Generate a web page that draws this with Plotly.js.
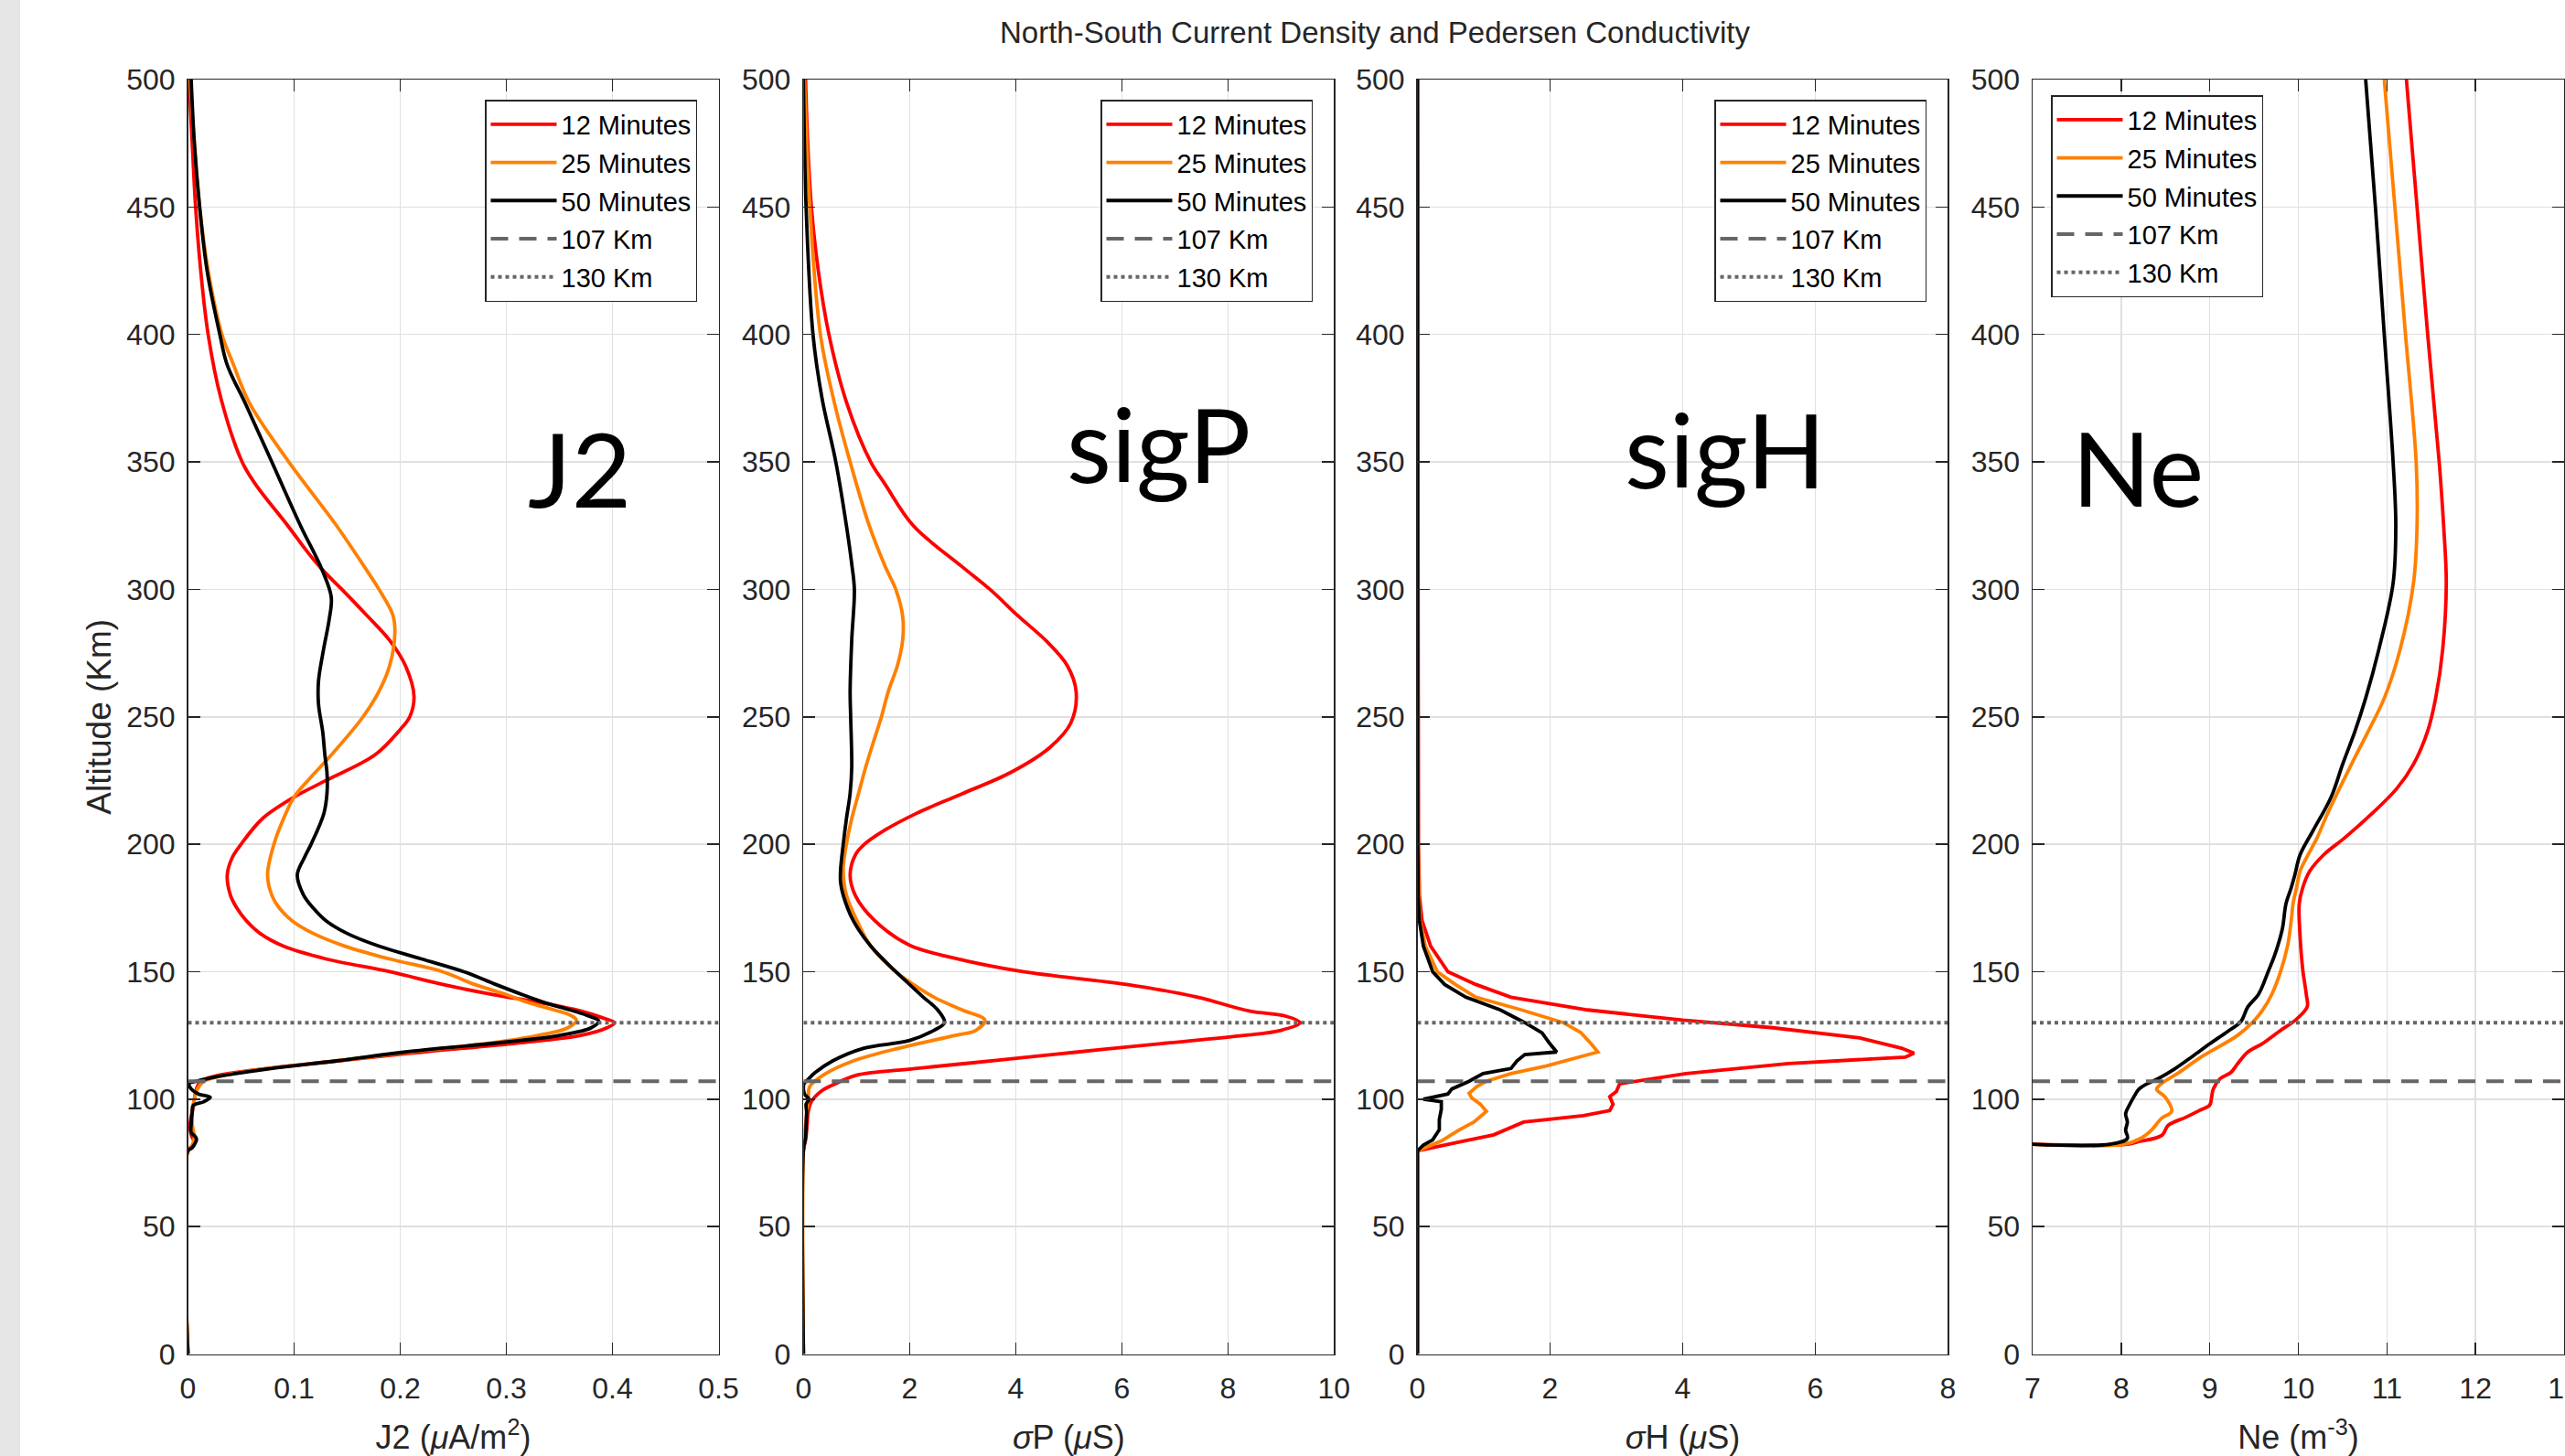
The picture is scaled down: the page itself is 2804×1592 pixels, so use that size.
<!DOCTYPE html>
<html><head><meta charset="utf-8">
<script src="https://cdn.plot.ly/plotly-3.0.1.min.js"></script>
<style>html,body{margin:0;padding:0;background:#fff;}#chart{width:2804px;height:1592px;}</style>
</head><body><div id="chart"></div>
<script>
// ---------------- DATA ----------------
const seriesNames = ['12 Minutes', '25 Minutes', '50 Minutes'];
const refNames = ['107 Km', '130 Km'];
const refAltitudes = [107, 130];

// Panel 1: J2 (uA/m^2)
const j2Range = [0, 0.5];
const j2Alt12 = [0,79.7,81,83,86,90,93,97,100,104,107,109,112,115,118.5,122,125,128,130,132,134.6,138,141,145,150,155,160,165,170,175,180,188,195,200,210,218.5,225,235,245,250,258,270,280,290,300,308,315,325,341,350,375,400,425,450,475,500];
const j2Val12 = [0,0,0.004,0.006,0.003,0.002,0.003,0.005,0.006,0.008,0.012,0.025,0.074,0.14,0.222,0.31,0.37,0.395,0.402,0.39,0.37,0.33,0.288,0.24,0.19,0.13,0.09,0.068,0.055,0.046,0.04,0.037,0.042,0.05,0.07,0.1,0.13,0.176,0.2,0.209,0.213,0.205,0.19,0.168,0.145,0.126,0.112,0.094,0.064,0.051,0.031,0.019,0.012,0.0072,0.004,0.001];
const j2Alt25 = [0,79.7,82,85,90,95,100,104,107,109,112,115,118.5,122,125,128,131,133,135,138,141,145,150,155,160,165,170,175,180,188,200,210,218.5,225,235,250,260,270,283,290,300,309,325,350,373,388,400,425,450,475,500];
const j2Val25 = [0,0,0.004,0.006,0.004,0.004,0.006,0.009,0.015,0.03,0.075,0.14,0.21,0.285,0.33,0.358,0.366,0.36,0.345,0.32,0.3,0.27,0.24,0.19,0.148,0.118,0.098,0.086,0.079,0.075,0.081,0.09,0.1,0.113,0.135,0.165,0.18,0.19,0.195,0.193,0.18,0.166,0.14,0.095,0.058,0.043,0.032,0.019,0.011,0.006,0.002];
const j2Alt50 = [0,79.7,81,84.5,87,90,95,97.5,99,100.7,102,104,106,107,109,112,115,118.5,122,125,128,130.7,133,135,138,141,145,150,155,160,165,170,175,180,188,195,200,212,220,228,235,244,255,264,277,288,297,308,325,350,373,388,400,425,450,475,500];
const j2Val50 = [0,0,0.004,0.008,0.003,0.003,0.004,0.005,0.015,0.021,0.01,0.003,0.001,0.008,0.03,0.078,0.14,0.205,0.29,0.35,0.38,0.387,0.375,0.36,0.335,0.315,0.29,0.26,0.22,0.18,0.15,0.13,0.118,0.109,0.103,0.11,0.116,0.128,0.131,0.131,0.129,0.127,0.123,0.123,0.128,0.133,0.135,0.126,0.106,0.079,0.054,0.037,0.03,0.018,0.011,0.006,0.003];

// Panel 2: sigma P (uS)
const sPRange = [0, 10];
const sPAlt12 = [0,80,84,90,95,99,103.3,106,109.4,112,115.2,118.5,121.7,125,127,130,132.5,134.6,140.1,145,150.1,155.6,160.4,170.1,179.8,187.9,195.9,199.8,205.6,212.1,219.8,228.2,237.9,247.6,259.8,270.2,279.9,289.5,299.9,308.9,325,341.2,349.9,373.5,400,425,450,475,500];
const sPVal12 = [0,0,0.04,0.07,0.09,0.15,0.35,0.6,1.0,2.1,3.64,5.17,6.7,8.3,9.0,9.36,9.1,8.4,7.41,6.09,4.11,2.79,2.0,1.34,0.98,0.88,0.98,1.14,1.54,2.13,2.99,3.91,4.64,5.04,5.14,4.97,4.57,4.05,3.52,2.99,2.07,1.54,1.27,0.81,0.48,0.28,0.15,0.08,0.04];
const sPAlt25 = [0,80,90,100,105,110,115,120,125,127,131,135,140,145,150,160,170,180,190,200,210,220,230,239.5,250,260,270,280,289.5,300,309,325,350,373.5,400,450,500];
const sPVal25 = [0,0,0.04,0.09,0.12,0.42,0.94,1.8,2.86,3.25,3.42,2.99,2.46,2.07,1.74,1.27,1.01,0.81,0.75,0.81,0.91,1.04,1.17,1.31,1.47,1.6,1.77,1.87,1.87,1.74,1.54,1.24,0.88,0.58,0.32,0.12,0.02];
const sPAlt50 = [0,80,85,90,95,98,100,102,104,106,108,110.4,115,120,123,127,130,135,140,145,150,160,170,180,185,190,200,210,220,230,250,260,280,300,310,325,350,375,400,450,500];
const sPVal50 = [0,0,0.04,0.05,0.06,0.05,0.1,0.02,0.0,0.01,0.1,0.22,0.55,1.14,2.0,2.46,2.66,2.53,2.26,2.0,1.74,1.27,0.94,0.75,0.7,0.7,0.75,0.81,0.88,0.91,0.89,0.88,0.91,0.96,0.91,0.81,0.61,0.35,0.18,0.05,0.0];

// Panel 3: sigma H (uS)
const sHRange = [0, 8];
const sHAlt12 = [0,79.7,83,86,91,93.5,95.5,98,101,103,106,110,114,116.5,118,120,124,128,131,135,140,145,150,160,170,180,200,300,400,500];
const sHVal12 = [0,0,0.6,1.15,1.6,2.5,2.9,2.95,2.9,3.0,3.05,4.05,5.6,7.36,7.49,7.3,6.67,5.36,4.0,2.57,1.41,0.88,0.46,0.2,0.07,0.03,0.015,0.01,0.004,0];
const sHAlt25 = [0,79.7,83.6,87.8,91,95.2,98,100.5,102.3,105,107,110,113,116,118.5,121.7,126.2,130,135,140,145,150,160,170,180,200,300,500];
const sHVal25 = [0,0,0.36,0.62,0.85,1.04,0.95,0.82,0.78,0.9,1.04,1.41,1.94,2.35,2.72,2.62,2.46,2.2,1.57,0.88,0.57,0.3,0.12,0.04,0.02,0.01,0.004,0];
const sHAlt50 = [0,79.7,82,84,88,92,96,99,100,101,102,104,107,110,112,115,117.5,118.5,120,122,126,130,135,140,145,150,160,170,180,200,500];
const sHVal50 = [0,0,0.09,0.23,0.33,0.33,0.36,0.36,0.09,0.3,0.46,0.52,0.78,0.99,1.41,1.5,1.62,2.1,2.05,1.99,1.88,1.62,1.25,0.73,0.41,0.23,0.09,0.03,0.01,0.005,0];

// Panel 4: Ne (log10 m^-3)
const neRange = [7, 13];
const neAlt12 = [82.3,82.3,83.2,85.8,89.7,92.9,95.5,97.7,100.5,104,108.1,110.5,113.7,118.5,121.7,126.5,131.4,136.2,141,150.7,163.7,176.6,183,189.5,196,202.4,212,221.8,231.4,244.4,257.3,276.6,302.5,325,350,400,450,500];
const neVal12 = [7.0,8.07,8.18,8.46,8.53,8.73,8.88,9.0,9.02,9.04,9.12,9.24,9.31,9.43,9.59,9.78,9.98,10.1,10.09,10.05,10.02,10.01,10.05,10.13,10.29,10.52,10.83,11.11,11.30,11.46,11.55,11.63,11.67,11.64,11.59,11.46,11.34,11.22];
const neAlt25 = [82.3,82.3,84.6,87.8,92.6,95.2,100.7,103.9,106.2,110.4,116.9,124.9,130.4,134.6,141.1,150.1,160.4,170.1,176.6,183,189.5,195.9,202.4,212.1,231.4,244.4,257.3,276.6,302.5,325,349.9,399.9,450,500];
const neVal25 = [7.0,8.03,8.22,8.34,8.46,8.57,8.5,8.4,8.46,8.65,8.92,9.31,9.49,9.59,9.7,9.8,9.88,9.92,9.94,9.98,10.02,10.11,10.21,10.33,10.6,10.79,10.97,11.15,11.3,11.34,11.33,11.21,11.09,10.97];
const neAlt50 = [82.3,82.3,84.6,87.8,91,94.3,97.5,100.7,103.9,106.2,108.1,112,116.9,121.7,126.5,130.4,136.2,141.1,150.1,157.2,166.9,176.6,183,187.9,195.9,205.6,218.5,231.4,244.4,257.3,276.6,302.5,325,349.9,399.9,450,500];
const neVal50 = [7.0,7.87,8.07,8.05,8.07,8.05,8.09,8.14,8.2,8.3,8.42,8.61,8.81,9.0,9.2,9.35,9.43,9.55,9.66,9.74,9.82,9.86,9.92,9.96,10.02,10.17,10.37,10.5,10.64,10.76,10.91,11.07,11.1,11.07,10.97,10.87,10.76];

const panelLabels = ['J2', 'sigP', 'sigH', 'Ne'];
const xTitles = ['J2 (<i>μ</i>A/m<sup>2</sup>)', '<i>σ</i>P (<i>μ</i>S)', '<i>σ</i>H (<i>μ</i>S)', 'Ne (m<sup>-3</sup>)'];
const yTitle = 'Altitude (Km)';
const chartTitle = 'North-South Current Density and Pedersen Conductivity';

// ---------------- STYLE / LAYOUT ----------------
const W = 2804, H = 1592;
const F = '"Liberation Sans", Arial, Helvetica, sans-serif';
const INK = '#262626';
const seriesColors = ['#ff0000', '#ff8000', '#000000'];
const refStyles = [{color:'#666666', width:4, dash:'19px,12px'}, {color:'#666666', width:4, dash:'4px,4px'}];

const panels = [
  {range:j2Range, alts:[j2Alt12,j2Alt25,j2Alt50], vals:[j2Val12,j2Val25,j2Val50], dtick:0.1, px:[205.5,785.5], shape:'spline', legendPx:[530,109], labelPos:[633,511]},
  {range:sPRange, alts:[sPAlt12,sPAlt25,sPAlt50], vals:[sPVal12,sPVal25,sPVal50], dtick:2, px:[878.3,1458.3], shape:'spline', legendPx:[1203,109], labelPos:[1266,484]},
  {range:sHRange, alts:[sHAlt12,sHAlt25,sHAlt50], vals:[sHVal12,sHVal25,sHVal50], dtick:2, px:[1549.5,2129.4], shape:'linear', legendPx:[1874,109], labelPos:[1885.5,490]},
  {range:neRange, alts:[neAlt12,neAlt25,neAlt50], vals:[neVal12,neVal25,neVal50], dtick:1, px:[2222,2803], shape:'spline', legendPx:[2242,104], labelPos:[2337,510]}
];
const yPx = [87, 1480.5];
const yDomain = [(H - yPx[1]) / H, (H - yPx[0]) / H];

const traces = [];
const layout = {
  width: W, height: H,
  margin: {l:0, r:0, t:0, b:0, pad:0},
  paper_bgcolor: '#ffffff', plot_bgcolor: '#ffffff',
  showlegend: true,
  title: {text: chartTitle, font:{family:F, size:33, color:INK}, x: 1503/W, xanchor:'center', xref:'container', y: 1 - 35/H, yanchor:'middle', yref:'container'},
  annotations: [],
  shapes: [{type:'rect', xref:'paper', yref:'paper', x0:0, x1:22/W, y0:0, y1:1, fillcolor:'#e6e6e6', line:{width:0}, layer:'below'}]
};

panels.forEach((p, i) => {
  const n = i === 0 ? '' : String(i + 1);
  const xa = 'x' + n, ya = 'y' + n;
  const lg = 'legend' + n;
  for (let s = 0; s < 3; s++) {
    traces.push({
      type:'scatter', mode:'lines', x:p.vals[s], y:p.alts[s], xaxis:xa, yaxis:ya,
      name:seriesNames[s], legend:lg, legendgroup:'g' + i + '_' + s,
      line:{color:seriesColors[s], width:3.8, shape:p.shape, smoothing:1.0},
      hoverinfo:'skip', cliponaxis:true
    });
  }
  for (let r = 0; r < 2; r++) {
    traces.push({
      type:'scatter', mode:'lines', x:p.range, y:[refAltitudes[r], refAltitudes[r]], xaxis:xa, yaxis:ya,
      name:refNames[r], legend:lg, legendgroup:'g' + i + '_r' + r,
      line:refStyles[r], hoverinfo:'skip'
    });
  }
  const common = {
    ticks:'inside', ticklen:13, tickwidth:1.5, tickcolor:INK,
    showline:true, linecolor:INK, linewidth:1.5, mirror:'ticks',
    showgrid:true, gridcolor:'#e0e0e0', gridwidth:1.5, zeroline:false,
    tickfont:{family:F, size:32, color:INK}, fixedrange:true,
    ticklabeloverflow:'allow'
  };
  layout['xaxis' + n] = Object.assign({}, common, {
    domain:[p.px[0]/W, p.px[1]/W], range:p.range, dtick:p.dtick, tick0:p.range[0], anchor:ya,
    ticklabelstandoff:9,
    title:{text:xTitles[i], font:{family:F, size:36, color:INK}, standoff:24}
  });
  const yax = Object.assign({}, common, {
    domain:yDomain, range:[0, 500], dtick:50, tick0:0, anchor:xa,
    ticklabelstandoff:6
  });
  if (i === 0) yax.title = {text:yTitle, font:{family:F, size:37, color:INK}, standoff:5};
  layout['yaxis' + n] = yax;
  layout[lg] = {
    x:p.legendPx[0]/W, y:1 - p.legendPx[1]/H, xanchor:'left', yanchor:'top',
    xref:'paper', yref:'paper',
    bgcolor:'#ffffff', bordercolor:INK, borderwidth:1.5,
    font:{family:F, size:29, color:'#000000'},
    traceorder:'grouped', tracegroupgap:1, itemwidth:72
  };
  const lx = p.range[0] + (p.labelPos[0] - p.px[0]) / (p.px[1] - p.px[0]) * (p.range[1] - p.range[0]);
  const ly = (yPx[1] - p.labelPos[1]) / (yPx[1] - yPx[0]) * 500;
  layout.annotations.push({
    text:panelLabels[i], xref:xa, yref:ya, x:lx, y:ly, xanchor:'center', yanchor:'middle',
    showarrow:false, font:{family:'Lato, "Open Sans", sans-serif', size:113, color:'#000000'}
  });
});

Plotly.newPlot('chart', traces, layout, {staticPlot:true});
</script></body></html>
